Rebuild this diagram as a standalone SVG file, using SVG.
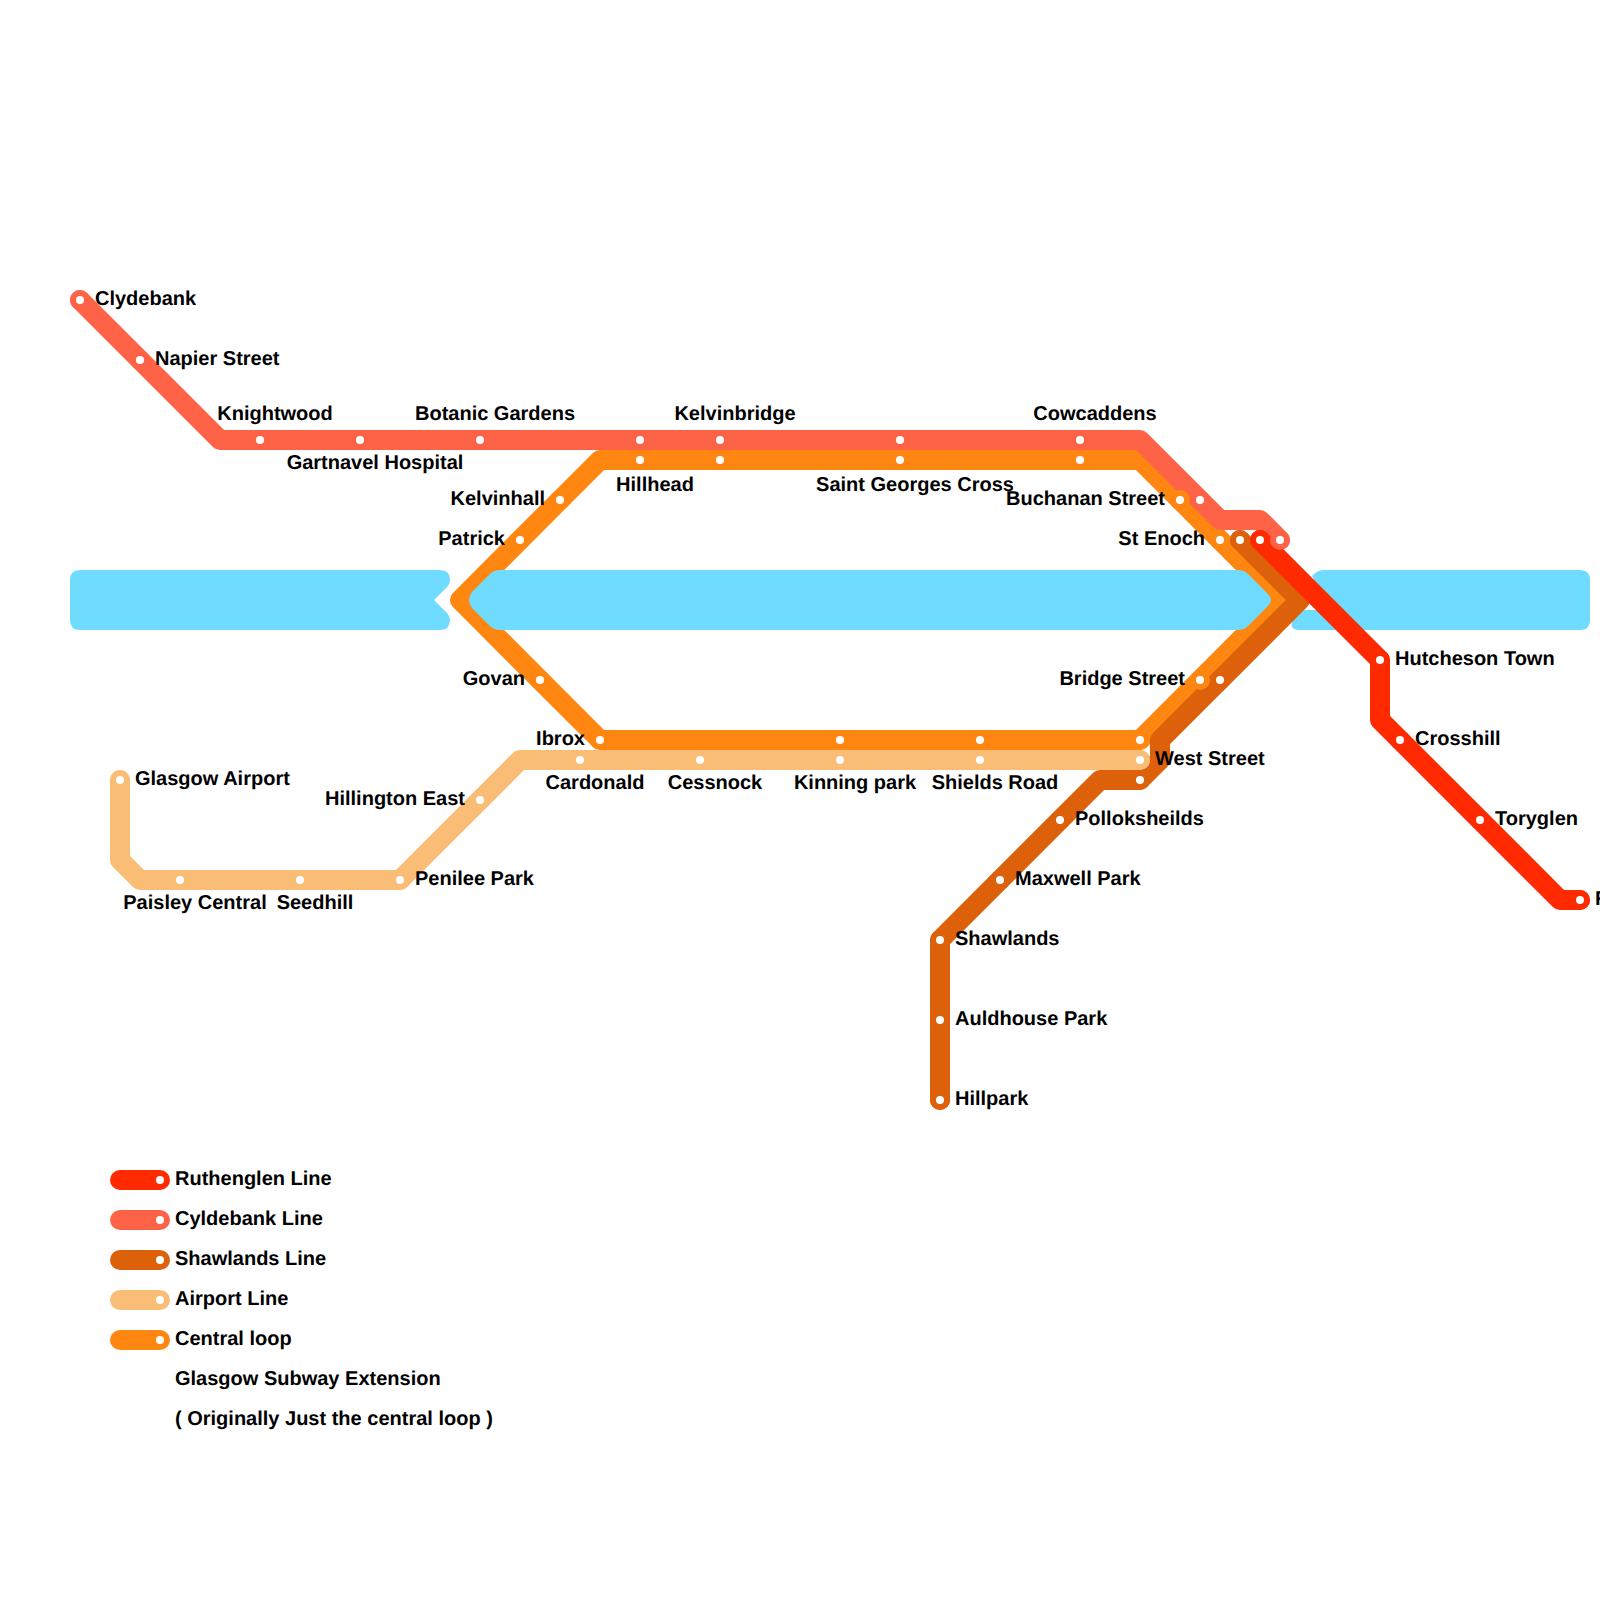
<svg xmlns="http://www.w3.org/2000/svg" width="1600" height="1600" viewBox="0 0 1600 1600">
<style>
text{font-family:"Liberation Sans",Arial,sans-serif;font-size:20px;font-weight:700;fill:#000;text-rendering:geometricPrecision}
.m{text-anchor:middle}
.e{text-anchor:end}
.l{fill:none;stroke-width:20;stroke-linejoin:round;stroke-linecap:round}
.r{fill:#6fdbff}
.d{fill:#fff}
.cr{stroke:#ff2a00}.ct{stroke:#ff6347}.cs{stroke:#dd600b}.ca{stroke:#f9bd75}.co{stroke:#ff8610}
.fr{fill:#ff2a00}.ft{fill:#ff6347}.fs{fill:#dd600b}.fa{fill:#f9bd75}.fo{fill:#ff8610}
</style>
<rect width="1600" height="1600" fill="#fff"/>
<g id="connectors-under">
<path class="l co" d="M460 600L600 460H1140L1280 600L1140 740H600Z"/>
</g>
<g id="river">
<path class="r" d="M80 570H440Q450 570 450 580Q450 584 447 587L434 600L447 613Q450 616 450 620Q450 630 440 630H80Q70 630 70 620V580Q70 570 80 570Z"/>
<path class="r" d="M500 570H1238Q1244 570 1248 574L1268 594Q1274 600 1268 606L1248 626Q1244 630 1238 630H500Q494 630 490 626L472 608Q466 600 472 592L490 574Q494 570 500 570Z"/>
<path class="r" d="M1312 576Q1317 570 1324 570H1580Q1590 570 1590 580V620Q1590 630 1580 630H1300Q1288 630 1293 620L1304 610H1330Z"/>
</g>
<g id="connectors">
<path class="l ct" d="M80 300L220 440H1140L1220 520H1260L1280 540"/>
<path class="l cs" d="M940 1100V940L1100 780H1140L1160 760V740L1300 600L1240 540"/>
<path class="l ca" d="M120 780V860L140 880H400L520 760H1140"/>
<path class="l cr" d="M1260 540L1380 660V720L1560 900H1580"/>
</g>
<g id="st-clydebank"><circle class="ft" cx="80" cy="300" r="10"/><circle class="d" cx="80" cy="300" r="4"/><text x="95" y="305">Clydebank</text></g>
<g id="st-napier"><circle class="ft" cx="140" cy="360" r="10"/><circle class="d" cx="140" cy="360" r="4"/><text x="155" y="365">Napier Street</text></g>
<g id="st-knightwood"><circle class="ft" cx="260" cy="440" r="10"/><circle class="d" cx="260" cy="440" r="4"/><text class="m" x="275" y="420">Knightwood</text></g>
<g id="st-gartnavel"><circle class="ft" cx="360" cy="440" r="10"/><circle class="d" cx="360" cy="440" r="4"/><text class="m" x="375" y="469">Gartnavel Hospital</text></g>
<g id="st-botanic"><circle class="ft" cx="480" cy="440" r="10"/><circle class="d" cx="480" cy="440" r="4"/><text class="m" x="495" y="420">Botanic Gardens</text></g>
<g id="st-hillhead"><circle class="ft" cx="640" cy="440" r="10"/><circle class="fo" cx="640" cy="460" r="10"/><circle class="d" cx="640" cy="440" r="4"/><circle class="d" cx="640" cy="460" r="4"/><text class="m" x="655" y="491">Hillhead</text></g>
<g id="st-kelvinbridge"><circle class="ft" cx="720" cy="440" r="10"/><circle class="fo" cx="720" cy="460" r="10"/><circle class="d" cx="720" cy="440" r="4"/><circle class="d" cx="720" cy="460" r="4"/><text class="m" x="735" y="420">Kelvinbridge</text></g>
<g id="st-stgeorges"><circle class="ft" cx="900" cy="440" r="10"/><circle class="fo" cx="900" cy="460" r="10"/><circle class="d" cx="900" cy="440" r="4"/><circle class="d" cx="900" cy="460" r="4"/><text class="m" x="915" y="491">Saint Georges Cross</text></g>
<g id="st-cowcaddens"><circle class="ft" cx="1080" cy="440" r="10"/><circle class="fo" cx="1080" cy="460" r="10"/><circle class="d" cx="1080" cy="440" r="4"/><circle class="d" cx="1080" cy="460" r="4"/><text class="m" x="1095" y="420">Cowcaddens</text></g>
<g id="st-buchanan"><circle class="ft" cx="1200" cy="500" r="10"/><circle class="fo" cx="1180" cy="500" r="10"/><circle class="d" cx="1200" cy="500" r="4"/><circle class="d" cx="1180" cy="500" r="4"/><text class="e" x="1165" y="505">Buchanan Street</text></g>
<g id="st-enoch"><circle class="ft" cx="1280" cy="540" r="10"/><circle class="fr" cx="1260" cy="540" r="10"/><circle class="fs" cx="1240" cy="540" r="10"/><circle class="fo" cx="1220" cy="540" r="10"/><circle class="d" cx="1280" cy="540" r="4"/><circle class="d" cx="1260" cy="540" r="4"/><circle class="d" cx="1240" cy="540" r="4"/><circle class="d" cx="1220" cy="540" r="4"/><text class="e" x="1205" y="545">St Enoch</text></g>
<g id="st-kelvinhall"><circle class="fo" cx="560" cy="500" r="10"/><circle class="d" cx="560" cy="500" r="4"/><text class="e" x="545" y="505">Kelvinhall</text></g>
<g id="st-patrick"><circle class="fo" cx="520" cy="540" r="10"/><circle class="d" cx="520" cy="540" r="4"/><text class="e" x="505" y="545">Patrick</text></g>
<g id="st-govan"><circle class="fo" cx="540" cy="680" r="10"/><circle class="d" cx="540" cy="680" r="4"/><text class="e" x="525" y="685">Govan</text></g>
<g id="st-ibrox"><circle class="fo" cx="600" cy="740" r="10"/><circle class="d" cx="600" cy="740" r="4"/><text class="e" x="585" y="745">Ibrox</text></g>
<g id="st-bridge"><circle class="fs" cx="1220" cy="680" r="10"/><circle class="fo" cx="1200" cy="680" r="10"/><circle class="d" cx="1220" cy="680" r="4"/><circle class="d" cx="1200" cy="680" r="4"/><text class="e" x="1185" y="685">Bridge Street</text></g>
<g id="st-glasgow-airport"><circle class="fa" cx="120" cy="780" r="10"/><circle class="d" cx="120" cy="780" r="4"/><text x="135" y="785">Glasgow Airport</text></g>
<g id="st-paisley"><circle class="fa" cx="180" cy="880" r="10"/><circle class="d" cx="180" cy="880" r="4"/><text class="m" x="195" y="909">Paisley Central</text></g>
<g id="st-seedhill"><circle class="fa" cx="300" cy="880" r="10"/><circle class="d" cx="300" cy="880" r="4"/><text class="m" x="315" y="909">Seedhill</text></g>
<g id="st-penilee"><circle class="fa" cx="400" cy="880" r="10"/><circle class="d" cx="400" cy="880" r="4"/><text x="415" y="885">Penilee Park</text></g>
<g id="st-hillington"><circle class="fa" cx="480" cy="800" r="10"/><circle class="d" cx="480" cy="800" r="4"/><text class="e" x="465" y="805">Hillington East</text></g>
<g id="st-cardonald"><circle class="fa" cx="580" cy="760" r="10"/><circle class="d" cx="580" cy="760" r="4"/><text class="m" x="595" y="789">Cardonald</text></g>
<g id="st-cessnock"><circle class="fa" cx="700" cy="760" r="10"/><circle class="d" cx="700" cy="760" r="4"/><text class="m" x="715" y="789">Cessnock</text></g>
<g id="st-kinning"><circle class="fo" cx="840" cy="740" r="10"/><circle class="fa" cx="840" cy="760" r="10"/><circle class="d" cx="840" cy="740" r="4"/><circle class="d" cx="840" cy="760" r="4"/><text class="m" x="855" y="789">Kinning park</text></g>
<g id="st-shields"><circle class="fo" cx="980" cy="740" r="10"/><circle class="fa" cx="980" cy="760" r="10"/><circle class="d" cx="980" cy="740" r="4"/><circle class="d" cx="980" cy="760" r="4"/><text class="m" x="995" y="789">Shields Road</text></g>
<g id="st-west"><circle class="fs" cx="1140" cy="780" r="10"/><circle class="fo" cx="1140" cy="740" r="10"/><circle class="fa" cx="1140" cy="760" r="10"/><circle class="d" cx="1140" cy="740" r="4"/><circle class="d" cx="1140" cy="760" r="4"/><circle class="d" cx="1140" cy="780" r="4"/><text x="1155" y="765">West Street</text></g>
<g id="st-pollok"><circle class="fs" cx="1060" cy="820" r="10"/><circle class="d" cx="1060" cy="820" r="4"/><text x="1075" y="825">Polloksheilds</text></g>
<g id="st-maxwell"><circle class="fs" cx="1000" cy="880" r="10"/><circle class="d" cx="1000" cy="880" r="4"/><text x="1015" y="885">Maxwell Park</text></g>
<g id="st-shawlands"><circle class="fs" cx="940" cy="940" r="10"/><circle class="d" cx="940" cy="940" r="4"/><text x="955" y="945">Shawlands</text></g>
<g id="st-auldhouse"><circle class="fs" cx="940" cy="1020" r="10"/><circle class="d" cx="940" cy="1020" r="4"/><text x="955" y="1025">Auldhouse Park</text></g>
<g id="st-hillpark"><circle class="fs" cx="940" cy="1100" r="10"/><circle class="d" cx="940" cy="1100" r="4"/><text x="955" y="1105">Hillpark</text></g>
<g id="st-hutcheson"><circle class="fr" cx="1380" cy="660" r="10"/><circle class="d" cx="1380" cy="660" r="4"/><text x="1395" y="665">Hutcheson Town</text></g>
<g id="st-crosshill"><circle class="fr" cx="1400" cy="740" r="10"/><circle class="d" cx="1400" cy="740" r="4"/><text x="1415" y="745">Crosshill</text></g>
<g id="st-toryglen"><circle class="fr" cx="1480" cy="820" r="10"/><circle class="d" cx="1480" cy="820" r="4"/><text x="1495" y="825">Toryglen</text></g>
<g id="st-ruthenglen"><circle class="fr" cx="1580" cy="900" r="10"/><circle class="d" cx="1580" cy="900" r="4"/><text x="1595" y="905">Ruthenglen</text></g>
<g id="legend">
<path class="l cr" d="M120 1180H160"/><circle class="d" cx="160" cy="1180" r="4"/><text x="175" y="1185">Ruthenglen Line</text>
<path class="l ct" d="M120 1220H160"/><circle class="d" cx="160" cy="1220" r="4"/><text x="175" y="1225">Cyldebank Line</text>
<path class="l cs" d="M120 1260H160"/><circle class="d" cx="160" cy="1260" r="4"/><text x="175" y="1265">Shawlands Line</text>
<path class="l ca" d="M120 1300H160"/><circle class="d" cx="160" cy="1300" r="4"/><text x="175" y="1305">Airport Line</text>
<path class="l co" d="M120 1340H160"/><circle class="d" cx="160" cy="1340" r="4"/><text x="175" y="1345">Central loop</text>
<text x="175" y="1385">Glasgow Subway Extension</text>
<text x="175" y="1425">( Originally Just the central loop )</text>
</g>
</svg>
